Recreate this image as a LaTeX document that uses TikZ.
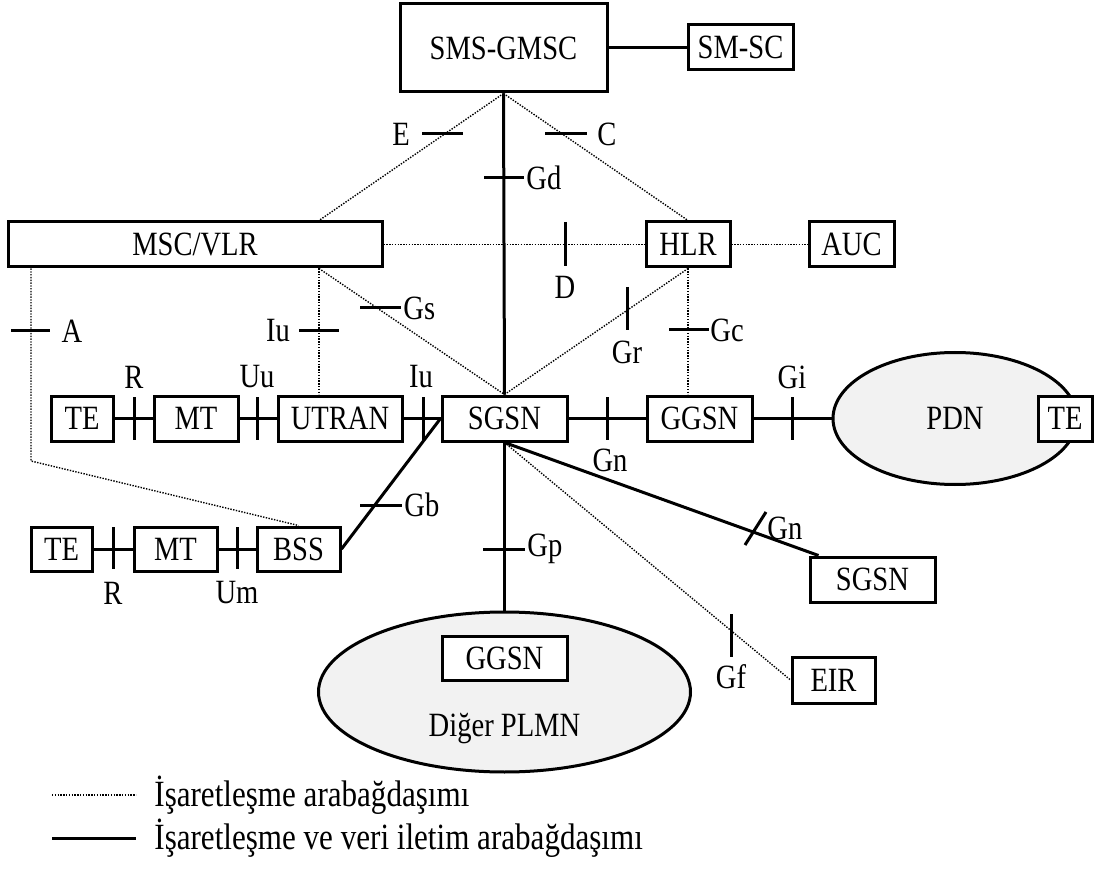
\documentclass[tikz,border=0pt]{standalone}
\usepackage{fontspec}
\setmainfont{Liberation Serif}[FakeStretch=0.84]
\usetikzlibrary{shapes.geometric}
\definecolor{cloudfill}{HTML}{F2F2F2}
\begin{document}
\begin{tikzpicture}[x=0.5pt,y=-0.5pt,
  font=\fontsize{17}{20}\selectfont,
  box/.style={draw,line width=1.5pt,fill=white,inner sep=0pt,minimum height=22.5pt},
  cloud/.style={ellipse,draw,line width=1.5pt,fill=cloudfill,inner sep=0pt},
  data/.style={line width=1.5pt},
  sig/.style={line width=0.7pt,dash pattern=on 0.7pt off 0.7pt},
  tick/.style={line width=1.5pt},
  lbl/.style={inner sep=0pt},
  legtext/.style={inner sep=0pt,anchor=west,font=\fontsize{18.5}{22}\selectfont}]
\useasboundingbox (0,0) rectangle (1105,872);

% network elements
\node[box,minimum width=103.5pt,minimum height=44pt] (gmsc) at (503.5,48) {SMS-GMSC};
\node[box,minimum width=52.5pt] (smsc) at (740.5,47.5) {SM-SC};
\node[box,minimum width=187pt] (msc) at (195,244.5) {MSC/VLR};
\node[box,minimum width=42pt] (hlr) at (688,244.5) {HLR};
\node[box,minimum width=42.5pt] (auc) at (851.5,244.5) {AUC};
\node[cloud,minimum width=122pt,minimum height=66pt] (pdn) at (955,418.5) {PDN};
\node[box,minimum width=31pt] (te1) at (82,418.5) {TE};
\node[box,minimum width=42pt] (mt1) at (196,418.5) {MT};
\node[box,minimum width=62pt] (utran) at (340,418.5) {UTRAN};
\node[box,minimum width=62.5pt] (sgsn) at (504.5,418.5) {SGSN};
\node[box,minimum width=52.5pt] (ggsn) at (699.5,418.5) {GGSN};
\node[box,minimum width=27pt] (te3) at (1065,418.5) {TE};
\node[box,minimum width=30.5pt,minimum height=22pt] (te2) at (61.5,549) {TE};
\node[box,minimum width=41.5pt,minimum height=22pt] (mt2) at (175.5,549) {MT};
\node[box,minimum width=41.5pt,minimum height=22pt] (bss) at (298.5,549) {BSS};
\node[box,minimum width=62.5pt] (sgsn2) at (872.5,579.5) {SGSN};
\node[box,minimum width=41.5pt,minimum height=23pt] (eir) at (833.5,680) {EIR};
\node[cloud,minimum width=186pt,minimum height=80pt] (plmn) at (504.5,692) {};
\node[box,minimum width=62.5pt,minimum height=22pt] (ggsn2) at (504.5,658) {GGSN};
\node (plmnlbl) at (504.5,729) {Diğer PLMN};

% helper coordinates
\coordinate (iux) at (319,0);
\coordinate (ax) at (31,461);

% signalling and data interfaces
\draw[data] (gmsc.east |- smsc.west) -- (smsc.west);
\draw[data] (gmsc.south) -- (sgsn.north);
\draw[data] (te1.east) -- (mt1.west);
\draw[data] (mt1.east) -- (utran.west);
\draw[data] (utran.east) -- (sgsn.west);
\draw[data] (sgsn.east) -- (ggsn.west);
\draw[data] (ggsn.east) -- (pdn.west);
\draw[data] (te2.east) -- (mt2.west);
\draw[data] (mt2.east) -- (bss.west);
\draw[data] (bss.east) -- (sgsn.west);
\draw[data] (sgsn.south) -- (plmn.north);
\draw[data] (sgsn.south) -- ([xshift=5pt]sgsn2.north west);

% signalling-only interfaces
\draw[sig] (gmsc.south) -- (msc.north -| iux);
\draw[sig] (gmsc.south) -- (hlr.north);
\draw[sig] (msc.east) -- (hlr.west);
\draw[sig] (hlr.east) -- (auc.west);
\draw[sig] (hlr.south) -- (hlr.south |- ggsn.north);
\draw[sig] (sgsn.north) -- (hlr.south);
\draw[sig] (msc.south -| iux) -- (sgsn.north);
\draw[sig] (msc.south -| iux) -- (utran.north -| iux);
\draw[sig] (msc.south -| ax) -- (ax) -- (bss.north);
\draw[sig] (sgsn.south) -- (eir.west);

% interface reference marks
\draw[tick] (422,134) -- (463,134);
\draw[tick] (545,134) -- (587,134);
\draw[tick] (484,178) -- (524,178);
\draw[tick] (565,222) -- (565,266);
\draw[tick] (11,331) -- (50,331);
\draw[tick] (299,331) -- (339,331);
\draw[tick] (360,308) -- (401,308);
\draw[tick] (627,287) -- (627,330);
\draw[tick] (669,330) -- (709,330);
\draw[tick] (134,397) -- (134,440);
\draw[tick] (257,397) -- (257,440);
\draw[tick] (423,397) -- (423,441);
\draw[tick] (607,397) -- (607,440);
\draw[tick] (792,397) -- (792,440);
\draw[tick] (360,505) -- (402,505);
\draw[tick] (483,549) -- (525,549);
\draw[tick] (113,527) -- (113,569);
\draw[tick] (237,527) -- (237,569);
\draw[tick] (745,545) -- (766,512);
\draw[tick] (731,614) -- (731,657);

% interface names
\node[lbl] (lE) at (401,134) {E};
\node[lbl] (lC) at (607,134) {C};
\node[lbl,anchor=west] (lGd) at (526,178) {Gd};
\node[lbl] (lD) at (565,287) {D};
\node[lbl] (lA) at (72,331) {A};
\node[lbl] (lIu1) at (278,331) {Iu};
\node[lbl,anchor=west] (lGs) at (403,308) {Gs};
\node[lbl] (lGr) at (627,352) {Gr};
\node[lbl,anchor=west] (lGc) at (710,330) {Gc};
\node[lbl] (lR1) at (134,377) {R};
\node[lbl] (lUu) at (257,377) {Uu};
\node[lbl] (lIu2) at (421,377) {Iu};
\node[lbl] (lGi) at (792,377) {Gi};
\node[lbl] (lGn1) at (610,460) {Gn};
\node[lbl,anchor=west] (lGb) at (404,505) {Gb};
\node[lbl,anchor=west] (lGp) at (527,549) {Gp};
\node[lbl] (lR2) at (113,593) {R};
\node[lbl] (lUm) at (237,593) {Um};
\node[lbl,anchor=west] (lGn2) at (767,528) {Gn};
\node[lbl] (lGf) at (731,677) {Gf};

% legend
\coordinate (l1a) at (52,795);
\coordinate (l1b) at (136,795);
\coordinate (l2a) at (52,838);
\coordinate (l2b) at (136,838);
\draw[sig] (l1a) -- (l1b);
\draw[data] (l2a) -- (l2b);
\node[legtext] (leg1) at (154,795) {İşaretleşme arabağdaşımı};
\node[legtext] (leg2) at (154,838) {İşaretleşme ve veri iletim arabağdaşımı};
\end{tikzpicture}
\end{document}
